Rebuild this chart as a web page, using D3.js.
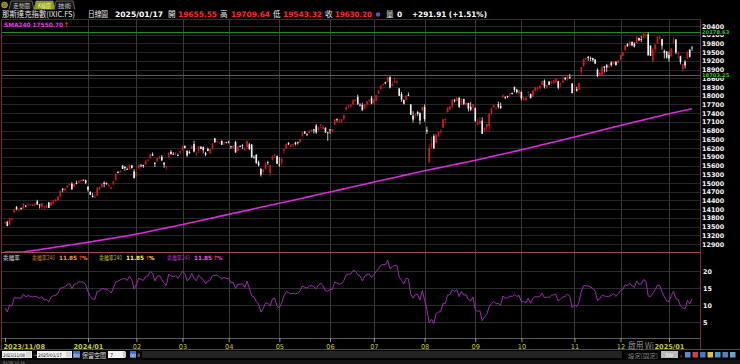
<!DOCTYPE html>
<html>
<head>
<meta charset="utf-8">
<script src="https://cdn.jsdelivr.net/npm/d3@7"></script>
<style>
  body { margin: 0; background: #000; overflow: hidden; }
  svg { display: block; }
</style>
</head>
<body>
<svg id="chart" width="740" height="364"></svg>
<script>
// x axis: month labels and the trading-day index where each month starts
const tickLabels = ['2023/11/08', '2024/01', '02', '03', '04', '05', '06', '07', '08', '09', '10', '11', '12', '2025/01'];
const tickIndex = [0, 36, 57, 77, 97, 119, 141, 160, 182, 204, 224, 247, 267, 288];

const priceTicks = [12900, 13200, 13500, 13800, 14100, 14400, 14700, 15000, 15300, 15600, 15900, 16200, 16500,
  16800, 17100, 17400, 17700, 18000, 18300, 18600, 18900, 19200, 19500, 19800, 20100, 20400];
const biasTicks = [5, 10, 15, 20];
const markLines = [20178.63, 18703.25];

// daily candles [open, high, low, close], 2023/11/08 .. 2025/01/17
const ohlc = [
  // 2023/11
  [13640,13680,13580,13650],[13660,13700,13510,13521],[13560,13800,13540,13798],[13740,13800,13710,13768],
  [13990,14110,13970,14094],[14170,14210,14060,14104],[14080,14120,14030,14113],[14140,14160,14070,14125],
  [14120,14300,14110,14284],[14220,14240,14160,14200],[14250,14330,14230,14265],[14240,14280,14230,14250],
  [14230,14280,14210,14241],[14230,14300,14200,14282],[14370,14420,14250,14258],[14260,14270,14120,14226],
  // 2023/12
  [14180,14310,14110,14305],[14180,14210,14060,14185],[14150,14260,14130,14230],[14330,14350,14140,14147],
  [14230,14360,14210,14340],[14300,14420,14290,14404],[14380,14440,14340,14432],[14410,14540,14400,14533],
  [14530,14750,14500,14734],[14800,14820,14680,14762],[14740,14830,14720,14814],[14850,14930,14830,14905],
  [14930,14980,14910,14964],[14970,15030,14770,14778],[14870,14970,14840,14964],[15000,15080,14950,14993],
  [15010,15100,15000,15074],[15060,15110,15040,15100],[15110,15120,15070,15096],[15100,15110,14960,15011],
  // 2024/01
  [14870,14890,14700,14766],[14690,14720,14580,14592],[14560,14660,14510,14510],[14500,14610,14480,14524],
  [14560,14850,14550,14843],[14770,14880,14760,14858],[14850,14990,14840,14970],[15010,15050,14850,14970],
  [15000,15020,14930,14973],[14900,14970,14860,14944],[14810,14860,14770,14856],[14960,15070,14920,15056],
  [15110,15320,15080,15311],[15370,15410,15330,15360],[15390,15430,15350,15426],[15600,15610,15480,15482],
  [15560,15570,15420,15510],[15480,15530,15450,15455],[15470,15630,15450,15628],[15600,15620,15500,15509],
  [15400,15480,15160,15164],
  // 2024/02
  [15230,15370,15210,15361],[15500,15640,15490,15629],[15600,15660,15540,15598],[15620,15630,15520,15582],
  [15640,15780,15610,15756],[15770,15820,15750,15794],[15840,16000,15830,15990],[15990,16050,15930,15942],
  [15680,15720,15550,15656],[15760,15870,15710,15859],[15860,15920,15820,15906],[15900,15960,15760,15776],
  [15700,15710,15520,15631],[15580,15600,15460,15581],[15890,16060,15870,16041],[16070,16130,15970,15996],
  [16000,16060,15970,15976],[16020,16060,15950,16035],[15960,16010,15920,15948],[16050,16100,15980,16092],
  // 2024/03
  [16120,16280,16100,16275],[16270,16300,16190,16207],[16110,16120,15900,15940],[16070,16120,15990,16032],
  [16180,16290,16170,16273],[16340,16450,16050,16085],[16000,16060,15930,16019],[16110,16270,16020,16266],
  [16250,16260,16160,16178],[16230,16260,16020,16129],[16030,16070,15920,15973],[16170,16220,16090,16103],
  [16020,16170,16000,16167],[16180,16370,16140,16369],[16540,16540,16380,16402],[16410,16450,16390,16429],
  [16380,16420,16350,16385],[16450,16460,16310,16316],[16390,16410,16300,16400],[16400,16420,16360,16379],
  // 2024/04
  [16420,16450,16360,16397],[16260,16280,16170,16240],[16200,16310,16190,16277],[16410,16450,16040,16050],
  [16100,16290,16090,16249],[16270,16300,16230,16253],[16310,16330,16160,16306],[16130,16240,16100,16170],
  [16230,16460,16160,16443],[16330,16370,16130,16175],[16320,16340,15860,15885],[15890,15950,15840,15865],
  [15970,15990,15660,15683],[15710,15770,15570,15601],[15480,15520,15220,15282],[15380,15500,15310,15451],
  [15480,15710,15480,15697],[15720,15760,15620,15713],[15350,15630,15220,15612],[15800,15950,15780,15928],
  [15960,15990,15850,15983],[15920,15950,15650,15658],
  // 2024/05
  [15630,15890,15560,15605],[15700,15860,15610,15841],[16110,16170,16020,16156],[16180,16350,16170,16349],
  [16380,16400,16300,16333],[16240,16340,16230,16302],[16300,16350,16230,16346],[16390,16420,16290,16341],
  [16400,16420,16320,16388],[16400,16530,16390,16511],[16620,16750,16590,16742],[16770,16790,16690,16698],
  [16690,16700,16610,16686],[16720,16830,16700,16795],[16760,16840,16750,16833],[16840,16860,16700,16802],
  [16970,17030,16690,16737],[16820,16940,16800,16921],[16990,17030,16880,17019],[16860,16990,16850,16921],
  [16900,16910,16720,16737],[16740,16750,16450,16735],
  // 2024/06
  [16840,16860,16690,16829],[16780,16860,16740,16857],[17000,17190,16990,17187],[17190,17220,17110,17173],
  [17120,17210,17050,17133],[17100,17200,17060,17192],[17210,17340,17160,17343],[17520,17660,17500,17608],
  [17650,17690,17580,17667],[17630,17700,17590,17689],[17710,17870,17680,17862],[17860,17890,17810,17862],
  [17960,18040,17680,17721],[17690,17740,17630,17689],[17680,17760,17490,17497],[17560,17720,17530,17718],
  [17700,17820,17660,17805],[17820,17880,17790,17858],[17930,18000,17710,17733],
  // 2024/07
  [17760,17890,17710,17879],[17830,18030,17810,18029],[18070,18190,18060,18188],[18230,18360,18210,18352],
  [18380,18420,18340,18403],[18470,18480,18390,18429],[18480,18650,18460,18647],[18640,18670,18250,18283],
  [18340,18500,18320,18398],[18450,18640,18440,18472],[18480,18520,18410,18509],[18250,18260,17990,17997],
  [18060,18130,17790,17871],[17850,17880,17700,17727],[17870,18010,17830,18008],[18030,18110,17990,17997],
  [17700,17710,17340,17342],[17320,17470,17080,17182],[17310,17400,17240,17358],[17440,17480,17310,17370],
  [17400,17430,17010,17147],[17500,17640,17460,17599],
  // 2024/08
  [17610,17700,17110,17194],[16820,16940,16690,16776],[15710,16330,15708,16200],[16250,16580,16190,16366],
  [16610,16680,16170,16195],[16380,16690,16360,16660],[16600,16790,16570,16745],[16750,16850,16690,16781],
  [16900,17200,16890,17188],[17190,17230,17060,17192],[17440,17600,17420,17595],[17530,17660,17510,17631],
  [17620,17880,17580,17877],[17850,17900,17770,17817],[17830,17960,17800,17919],[17930,17950,17580,17619],
  [17700,17920,17680,17877],[17890,17900,17680,17726],[17690,17780,17640,17754],[17750,17760,17460,17556],
  [17620,17790,17480,17516],[17600,17720,17470,17714],
  // 2024/09
  [17580,17600,17100,17137],[17000,17220,16990,17085],[17040,17260,17030,17128],[17140,17260,16690,16690],
  [16800,16910,16760,16885],[16910,17030,16770,17026],[16960,17400,16760,17396],[17410,17580,17330,17570],
  [17600,17700,17590,17684],[17580,17600,17500,17592],[17710,17800,17560,17628],[17650,17770,17550,17573],
  [17960,18040,17920,18014],[17950,17980,17880,17948],[17990,18000,17920,17974],[18060,18090,17970,18075],
  [18090,18110,18040,18082],[18300,18320,18120,18190],[18210,18240,18080,18119],[18080,18190,18000,18189],
  // 2024/10
  [18130,18150,17840,17910],[17880,17980,17830,17925],[17840,17970,17820,17918],[18120,18140,17990,18138],
  [18060,18080,17900,17923],[17980,18190,17960,18183],[18170,18300,18160,18291],[18220,18320,18200,18282],
  [18250,18360,18240,18343],[18380,18520,18370,18503],[18520,18560,18250,18316],[18290,18370,18230,18367],
  [18490,18500,18360,18374],[18440,18520,18400,18490],[18430,18550,18410,18540],[18460,18590,18440,18573],
  [18500,18510,18220,18277],[18390,18440,18300,18415],[18450,18690,18440,18519],[18620,18640,18530,18567],
  [18560,18720,18520,18712],[18640,18750,18580,18607],[18420,18440,18080,18095],
  // 2024/11
  [18210,18380,18180,18240],[18230,18310,18140,18180],[18210,18440,18200,18439],[18820,18990,18740,18983],
  [19020,19280,19010,19269],[19250,19320,19220,19287],[19340,19370,19200,19299],[19300,19350,19190,19281],
  [19290,19310,19170,19231],[19250,19260,19090,19108],[18900,18940,18640,18680],[18700,18830,18690,18792],
  [18690,19010,18680,18988],[19010,19020,18800,18967],[19050,19100,18820,18972],[18990,19090,18950,19004],
  [19150,19180,19000,19055],[19090,19180,19070,19175],[19170,19180,19030,19061],[19130,19230,19120,19218],
  // 2024/12
  [19250,19410,19230,19404],[19370,19490,19360,19481],[19570,19740,19550,19735],[19790,19800,19680,19701],
  [19730,19880,19720,19860],[19850,19870,19700,19737],[19790,19840,19660,19687],[19810,20050,19800,20034],
  [19990,20000,19890,19902],[19950,20060,19850,19926],[19990,20200,19970,20173],[20080,20120,19990,20109],
  [20110,20180,19380,19393],[19720,19740,19370,19372],[19200,19650,19170,19573],[19590,19770,19510,19764],
  [19800,20040,19800,20031],[19970,20060,19910,20020],[19950,19960,19580,19722],[19540,19590,19280,19487],
  [19520,19540,19280,19311],
  // 2025/01
  [19400,19520,19170,19281],[19360,19640,19340,19622],[19850,20010,19800,19865],[19940,19940,19430,19490],
  [19440,19520,19290,19479],[19360,19380,19080,19162],[18910,19090,18830,19088],[19170,19230,18940,19044],
  [19280,19530,19260,19511],[19590,19590,19320,19338.29],[19655.55,19709.64,19543.32,19630.20]
];

// SMA240 for the same days
const sma240 = [
  12510,12524,12539,12553,12568,12582,12596,12611,12625,12637,12649,12661,12673,12684,12696,12708,
  12720,12732,12744,12756,12768,12780,12792,12804,12816,12828,12840,12852,12864,12876,12888,12900,12912,12924,12936,12948,
  12960,12973,12986,12999,13011,13024,13037,13050,13063,13076,13089,13101,13114,13127,13140,13154,13169,13183,13197,13211,13226,
  13240,13257,13273,13290,13306,13323,13339,13356,13372,13389,13405,13422,13438,13455,13471,13488,13504,13521,13537,13554,
  13570,13588,13605,13623,13640,13658,13675,13693,13710,13728,13745,13763,13780,13798,13815,13833,13850,13868,13885,13903,
  13920,13937,13955,13972,13989,14006,14024,14041,14058,14075,14093,14110,14127,14145,14162,14179,14196,14214,14231,14248,14265,14283,
  14300,14318,14335,14353,14371,14389,14406,14424,14442,14460,14477,14495,14513,14530,14548,14566,14584,14601,14619,14637,14655,14672,
  14690,14708,14726,14744,14762,14780,14797,14815,14833,14851,14869,14887,14905,14923,14941,14958,14976,14994,15012,
  15030,15048,15065,15083,15101,15119,15136,15154,15172,15190,15207,15225,15243,15260,15278,15296,15314,15331,15349,15367,15385,15402,
  15420,15436,15453,15469,15485,15502,15518,15535,15551,15567,15584,15600,15616,15633,15649,15665,15682,15698,15715,15731,15747,15764,
  15780,15798,15816,15834,15852,15870,15888,15906,15924,15942,15960,15978,15996,16014,16032,16050,16068,16086,16104,16122,
  16140,16159,16178,16197,16217,16236,16255,16274,16293,16312,16331,16350,16370,16389,16408,16427,16446,16465,16484,16503,16523,16542,16561,
  16580,16600,16620,16640,16660,16680,16700,16720,16740,16760,16780,16800,16820,16840,16860,16880,16900,16920,16940,16960,
  16980,16999,17018,17037,17056,17075,17094,17113,17132,17151,17170,17190,17209,17228,17247,17266,17285,17304,17323,17342,17361,
  17380,17397,17414,17431,17448,17465,17482,17499,17517,17534,17550.7
];

// bias rate (close vs SMA240), in percent
const bias = ohlc.map((d, i) => (d[3] - sma240[i]) / sma240[i] * 100);

const cjk = '"Noto Sans CJK TC", "Noto Sans CJK SC", sans-serif';
const num = '"DejaVu Sans", Verdana, sans-serif';
const upColor = '#d8161e';
const downColor = '#f2f2f2';
const border = '#7a2c3c';

const svg = d3.select('#chart');
svg.append('rect').attr('width', 740).attr('height', 364).attr('fill', '#000');

const defs = svg.append('defs');
defs.append('clipPath').attr('id', 'clipMain')
  .append('rect').attr('x', 2).attr('y', 20).attr('width', 698).attr('height', 232);
defs.append('clipPath').attr('id', 'clipBias')
  .append('rect').attr('x', 2).attr('y', 253).attr('width', 698).attr('height', 85);

const x = d3.scaleLinear().domain([0, ohlc.length - 1]).range([5, 692]);
const y = d3.scaleLinear().domain([12625, 20606]).range([252, 20]);
const ySma = y.copy().clamp(true);
const yb = d3.scaleLinear().domain([5, 20]).range([322, 271]);

function label(g, s, px, py, size, color, opts) {
  opts = opts || {};
  const t = g.append('text')
    .attr('x', px).attr('y', py)
    .attr('font-family', opts.family || cjk)
    .attr('font-size', size)
    .attr('font-weight', opts.weight || 'normal')
    .attr('fill', color)
    .text(s);
  if (opts.width) t.attr('textLength', opts.width).attr('lengthAdjust', 'spacingAndGlyphs');
  if (opts.anchor) t.attr('text-anchor', opts.anchor);
  return t;
}

// grid
const grid = svg.append('g');
grid.selectAll('.hg').data(priceTicks).join('line')
  .attr('x1', 2).attr('x2', 700)
  .attr('y1', d => Math.round(y(d)) + 0.5).attr('y2', d => Math.round(y(d)) + 0.5)
  .attr('stroke', '#262626');
grid.selectAll('.bg').data(biasTicks).join('line')
  .attr('x1', 2).attr('x2', 700)
  .attr('y1', d => Math.round(yb(d)) + 0.5).attr('y2', d => Math.round(yb(d)) + 0.5)
  .attr('stroke', '#2c2c2c');
grid.selectAll('.vg').data(tickIndex.slice(1)).join('line')
  .attr('x1', d => Math.round(x(d)) + 0.5).attr('x2', d => Math.round(x(d)) + 0.5)
  .attr('y1', 20).attr('y2', 338)
  .attr('stroke', '#3a3a3a');

// marker lines (green)
grid.selectAll('.ml').data(markLines).join('line')
  .attr('x1', 2).attr('x2', 700)
  .attr('y1', d => Math.round(y(d)) + 0.5).attr('y2', d => Math.round(y(d)) + 0.5)
  .attr('stroke', '#1c8a1c');

// candles
const candles = svg.append('g').attr('clip-path', 'url(#clipMain)');
candles.selectAll('line').data(ohlc).join('line')
  .attr('x1', (d, i) => x(i)).attr('x2', (d, i) => x(i))
  .attr('y1', d => y(d[1])).attr('y2', d => y(d[2]))
  .attr('stroke', d => d[3] >= d[0] ? upColor : downColor)
  .attr('stroke-width', 0.8);
candles.selectAll('rect').data(ohlc).join('rect')
  .attr('x', (d, i) => x(i) - 0.8).attr('width', 1.6)
  .attr('y', d => y(Math.max(d[0], d[3])))
  .attr('height', d => Math.max(0.8, Math.abs(y(d[0]) - y(d[3]))))
  .attr('fill', d => d[3] >= d[0] ? upColor : downColor);

// SMA240
svg.append('path')
  .datum(sma240)
  .attr('fill', 'none')
  .attr('stroke', '#dc28dc')
  .attr('stroke-width', 1.6)
  .attr('d', d3.line().x((d, i) => x(i)).y(d => ySma(d)));

// bias line
svg.append('g').attr('clip-path', 'url(#clipBias)')
  .append('path')
  .datum(bias)
  .attr('fill', 'none')
  .attr('stroke', '#a02ab4')
  .attr('stroke-width', 1)
  .attr('d', d3.line().x((d, i) => x(i)).y(d => yb(d)));

// panel frames
const frame = svg.append('g').attr('fill', 'none');
frame.append('line').attr('x1', 1).attr('x2', 700).attr('y1', 19.5).attr('y2', 19.5).attr('stroke', '#5c2030');
frame.append('line').attr('x1', 1.5).attr('x2', 1.5).attr('y1', 19.5).attr('y2', 349).attr('stroke', border);
frame.append('line').attr('x1', 700.5).attr('x2', 700.5).attr('y1', 19.5).attr('y2', 349).attr('stroke', border);
frame.append('line').attr('x1', 1).attr('x2', 700).attr('y1', 252.5).attr('y2', 252.5).attr('stroke', '#a04460');
frame.append('line').attr('x1', 1).attr('x2', 700).attr('y1', 338.5).attr('y2', 338.5).attr('stroke', '#5a5a5a');
frame.append('line').attr('x1', 0).attr('x2', 740).attr('y1', 349.5).attr('y2', 349.5).attr('stroke', '#4a4a4a');

// price axis
const yAxis = svg.append('g')
  .attr('transform', 'translate(702,0)')
  .call(d3.axisRight(y).tickValues(priceTicks).tickSize(0).tickPadding(0).tickFormat(d3.format('d')));
yAxis.select('.domain').remove();
yAxis.selectAll('text')
  .attr('fill', '#f4f4f4').attr('font-family', num).attr('font-size', 6.4).attr('font-weight', 'bold');

// green marker labels, drawn over the price labels they cover
const marks = svg.append('g').selectAll('g').data(markLines).join('g')
  .attr('transform', d => `translate(702,${y(d)})`);
marks.append('rect').attr('x', 0).attr('y', -2.6).attr('width', 26).attr('height', 5.2).attr('fill', '#000');
marks.append('text')
  .attr('dy', '0.35em')
  .attr('font-family', num).attr('font-size', 5.2).attr('font-weight', 'bold')
  .attr('fill', '#28c828')
  .text(d => d3.format('.2f')(d));

// bias axis
const bAxis = svg.append('g')
  .attr('transform', 'translate(703,0)')
  .call(d3.axisRight(yb).tickValues(biasTicks).tickSize(0).tickPadding(0));
bAxis.select('.domain').remove();
bAxis.selectAll('text')
  .attr('fill', '#f4f4f4').attr('font-family', num).attr('font-size', 6.4).attr('font-weight', 'bold');

// date axis
const xAxis = svg.append('g')
  .attr('transform', 'translate(0,338)')
  .call(d3.axisBottom(x).tickValues(tickIndex).tickSize(4).tickPadding(2)
    .tickFormat((d, i) => tickLabels[i]));
xAxis.select('.domain').remove();
xAxis.selectAll('line').attr('stroke', '#9a9a9a');

// watermark sits under the last label
label(svg, '啟用 Wi', 628, 348.5, 9, '#8a8a8a', { width: 26 });

xAxis.raise();
xAxis.selectAll('text')
  .attr('fill', '#c8c84a').attr('font-family', num).attr('font-size', 6.6)
  .attr('font-weight', d => [0, 36, 288].includes(d) ? 'bold' : 'normal')
  .attr('text-anchor', d => d === 0 ? 'start' : 'middle')
  .attr('x', d => d === 0 ? -2 : 0);

// tabs
const tabs = svg.append('g');
tabs.append('circle').attr('cx', 4.5).attr('cy', 5).attr('r', 3).attr('fill', '#8a7a20').attr('stroke', '#d0c060').attr('stroke-width', 0.6);
[[9, 34, '走勢圖', false], [34, 55, 'K線圖', true], [54, 75, '技術', false]].forEach(t => {
  tabs.append('path')
    .attr('d', `M${t[0]},9.5 L${t[0] + 2},1 L${t[1] - 2},1 L${t[1]},9.5`)
    .attr('fill', t[3] ? '#8e9c18' : '#161616')
    .attr('stroke', '#9a9a9a').attr('stroke-width', 0.6);
  label(tabs, t[2], t[0] + 4, 8, 6, t[3] ? '#f4f4b0' : '#c8c8c8', { width: t[1] - t[0] - 8 });
});

// title row
const title = svg.append('g');
const last = ohlc[ohlc.length - 1];
const prevClose = ohlc[ohlc.length - 2][3];
const change = last[3] - prevClose;
const f2 = d3.format('.2f');
const red = '#ff2a2a';
label(title, '那斯達克指數(IXIC.FS)', 2, 17, 7.6, '#ececec', { width: 73 });
label(title, '日線圖', 88, 17, 7.6, '#ececec', { width: 20 });
label(title, '2025/01/17', 115, 17, 7.5, '#ffffff', { family: num, weight: 'bold', width: 48 });
label(title, '開', 168, 17, 7.6, '#ececec');
label(title, f2(last[0]), 178, 17, 7.5, red, { family: num, weight: 'bold', width: 39 });
label(title, '高', 220, 17, 7.6, '#ececec');
label(title, f2(last[1]), 231, 17, 7.5, red, { family: num, weight: 'bold', width: 39 });
label(title, '低', 273, 17, 7.6, '#ececec');
label(title, f2(last[2]), 283, 17, 7.5, red, { family: num, weight: 'bold', width: 39 });
label(title, '收', 325, 17, 7.6, '#ececec');
label(title, f2(last[3]), 335, 17, 7.5, red, { family: num, weight: 'bold', width: 37 });
title.append('circle').attr('cx', 378).attr('cy', 14.5).attr('r', 2.2).attr('fill', '#6a4cc0');
label(title, '量', 386, 17, 7.6, '#ececec');
label(title, '0', 397, 17, 7.5, '#ffffff', { family: num, weight: 'bold' });
label(title, '+' + f2(change) + ' (+' + f2(change / prevClose * 100) + '%)', 412, 17, 7.5, '#ffffff',
  { family: num, weight: 'bold', width: 75 });

// SMA legend
label(svg, 'SMA240 ' + f2(sma240[sma240.length - 1]), 4, 26.5, 6, '#e43ce4',
  { family: num, weight: 'bold', width: 59 });
label(svg, '↑', 63.5, 26.5, 6.5, red, { family: num, weight: 'bold' });

// bias legend
const lastBias = f2(bias[bias.length - 1]);
label(svg, '乖離率', 3, 260, 6, '#d0d0d0', { width: 17 });
[[32, '#c07a30', '#ff9c22'], [99, '#b4b42c', '#ffff34'], [167, '#b432b4', '#ff44ff']].forEach(g => {
  label(svg, '乖離率240', g[0], 260, 6, g[1], { width: 23 });
  label(svg, lastBias, g[0] + 27, 260, 5.8, g[2], { family: num, weight: 'bold', width: 18 });
  label(svg, '↑', g[0] + 46, 260, 6, red, { family: num, weight: 'bold' });
  label(svg, '%', g[0] + 50, 260, 5.5, g[2], { family: num, weight: 'bold' });
});

// bottom controls
const ctl = svg.append('g');
ctl.append('rect').attr('x', 2).attr('y', 351).attr('width', 30).attr('height', 7).attr('fill', '#f0f0f0');
label(ctl, '2023/11/08', 3, 357, 4.8, '#101010', { family: num, width: 22 });
ctl.append('rect').attr('x', 26).attr('y', 351.5).attr('width', 5).attr('height', 6).attr('fill', '#d8d8d8');
label(ctl, '~', 33, 357, 6, '#d0d0d0', { family: num });
ctl.append('rect').attr('x', 37).attr('y', 351).attr('width', 35).attr('height', 7).attr('fill', '#f0f0f0');
label(ctl, '2025/01/17', 38, 357, 4.8, '#101010', { family: num, width: 24 });
ctl.append('rect').attr('x', 66).attr('y', 351.5).attr('width', 5).attr('height', 6).attr('fill', '#d8d8d8');
ctl.append('rect').attr('x', 73).attr('y', 351).attr('width', 7).attr('height', 7).attr('fill', '#3a6cc8');
label(ctl, 'GO', 73.6, 356.8, 4.5, '#ffffff', { family: num, width: 6 });
label(ctl, '保留空間', 82, 357.5, 6.5, '#e0e0e0', { width: 24 });
ctl.append('rect').attr('x', 108).attr('y', 351).attr('width', 17).attr('height', 7).attr('fill', '#f0f0f0');
label(ctl, '7', 110, 357, 5, '#101010', { family: num });
ctl.append('rect').attr('x', 123).attr('y', 351.5).attr('width', 3).attr('height', 6).attr('fill', '#c8c8c8');
ctl.append('rect').attr('x', 130).attr('y', 351).attr('width', 6).attr('height', 7).attr('fill', '#3a6cc8');
label(ctl, 'GO', 130.3, 356.8, 4.5, '#ffffff', { family: num, width: 5.5 });
label(ctl, '4', 137, 357, 5, '#b0b0b0', { family: num });
ctl.append('rect').attr('x', 142).attr('y', 351).attr('width', 480).attr('height', 7).attr('fill', '#222');
label(ctl, '設定[固定]', 628, 357.5, 6, '#8a8a8a', { width: 30 });
ctl.append('rect').attr('x', 661).attr('y', 351).attr('width', 17).attr('height', 7).attr('fill', '#b8b8b8');
label(ctl, '3W', 665, 357, 5, '#f8f8f8', { family: num });
label(ctl, '›', 680, 357.5, 6, '#d0d0d0', { family: num });
['#5a8cc8', '#d04040', '#3c7ad0', '#e0c030', '#40a0d0', '#5a80b0', '#6aa0d0'].forEach((c, i) => {
  ctl.append('rect').attr('x', 685 + i * 7.5).attr('y', 352).attr('width', 5.5).attr('height', 5.5).attr('fill', c);
});
ctl.append('rect').attr('x', 0).attr('y', 360).attr('width', 740).attr('height', 4).attr('fill', '#141414');
label(ctl, '01/20 11:15', 3, 363.6, 3.6, '#b0b0b0', { family: num });
</script>
</body>
</html>
